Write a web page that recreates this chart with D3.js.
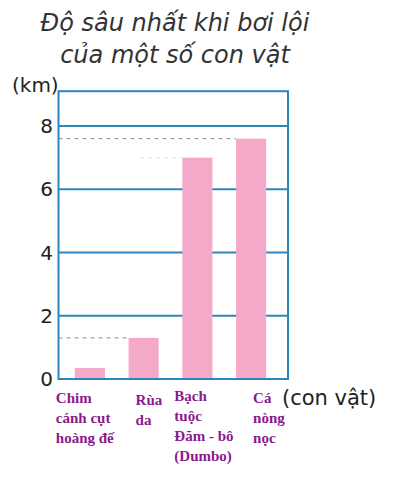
<!DOCTYPE html>
<html>
<head>
<meta charset="utf-8">
<script src="https://cdn.jsdelivr.net/npm/d3@7"></script>
<style>
  body { margin: 0; background: #fff; }
  svg { display: block; }
</style>
</head>
<body>
<svg id="chart" width="408" height="486"></svg>
<script>
// data
var titleLines = ['Độ sâu nhất khi bơi lội', 'của một số con vật'];
var animals = [
	['Chim', 'cánh cụt', 'hoàng đế'],
	['Rùa', 'da'],
	['Bạch', 'tuộc', 'Đăm - bô', '(Dumbo)'],
	['Cá', 'nòng', 'nọc']
];
var depths = [0.35, 1.3, 7, 7.6];
var yTicks = [0, 2, 4, 6, 8];
var yUnit = '(km)';
var xUnit = '(con vật)';

// layout
var frameLeft = 58.5, frameRight = 288;
var labelDx = [-19, 7, -8, 17];
var labelDy = [0, 2, -2, 0];
var sans = 'DejaVu Sans, sans-serif';

var svg = d3.select('#chart');

var x = d3.scaleBand()
	.domain(d3.range(animals.length))
	.range([63, 278])
	.paddingInner(0.44)
	.paddingOuter(0.22);

var y = d3.scaleLinear()
	.domain([0, 8])
	.range([379, 126]);

var blue = '#2b86c0';
var pink = '#f4a9c9';
var purple = '#8a1a8c';

// title
svg.append('g')
	.selectAll('text')
	.data(titleLines)
	.enter()
	.append('text')
	.attr('x', 175)
	.attr('y', function (d, i) { return 31 + i * 32; })
	.attr('text-anchor', 'middle')
	.attr('font-family', sans)
	.attr('font-style', 'italic')
	.attr('font-size', 24)
	.attr('fill', '#333')
	.text(function (d) { return d; });

// dashed guide lines
var guides = svg.append('g');
depths.forEach(function (d, i) {
	if (i === 0) return;
	var faint = i === 2;
	guides.append('line')
		.attr('x1', faint ? 140 : frameLeft)
		.attr('x2', x(i))
		.attr('y1', y(d))
		.attr('y2', y(d))
		.attr('stroke', faint ? '#d6e6ee' : '#8a8f96')
		.attr('stroke-width', 1)
		.attr('stroke-dasharray', '4,4');
});

// grid lines
svg.append('g')
	.selectAll('line')
	.data(yTicks)
	.enter()
	.append('line')
	.attr('x1', frameLeft)
	.attr('x2', frameRight)
	.attr('y1', function (d) { return y(d); })
	.attr('y2', function (d) { return y(d); })
	.attr('stroke', blue)
	.attr('stroke-width', 2);

// bars
svg.append('g')
	.selectAll('rect')
	.data(depths)
	.enter()
	.append('rect')
	.attr('x', function (d, i) { return x(i); })
	.attr('width', x.bandwidth())
	.attr('y', function (d) { return y(d); })
	.attr('height', function (d) { return y(0) - y(d) + 1; })
	.attr('fill', pink);

// frame
svg.append('rect')
	.attr('x', frameLeft)
	.attr('y', y(9.1))
	.attr('width', frameRight - frameLeft)
	.attr('height', y(0) - y(9.1))
	.attr('fill', 'none')
	.attr('stroke', blue)
	.attr('stroke-width', 2);

// y tick labels
svg.append('g')
	.selectAll('text')
	.data(yTicks)
	.enter()
	.append('text')
	.attr('x', 53)
	.attr('y', function (d) { return y(d) + 7; })
	.attr('text-anchor', 'end')
	.attr('font-family', sans)
	.attr('font-size', 20)
	.attr('fill', '#222')
	.text(function (d) { return d; });

svg.append('text')
	.attr('x', 12)
	.attr('y', 92)
	.attr('font-family', sans)
	.attr('font-size', 20)
	.attr('fill', '#222')
	.text(yUnit);

svg.append('text')
	.attr('x', 282)
	.attr('y', 405)
	.attr('font-family', sans)
	.attr('font-size', 21)
	.attr('fill', '#222')
	.text(xUnit);

// category labels
var labels = svg.append('g')
	.selectAll('text')
	.data(animals)
	.enter()
	.append('text')
	.attr('font-family', 'Liberation Serif, Times New Roman, serif')
	.attr('font-weight', 'bold')
	.attr('font-size', 15)
	.attr('fill', purple);

labels.each(function (lines, i) {
	var t = d3.select(this);
	lines.forEach(function (line, j) {
		t.append('tspan')
			.attr('x', x(i) + labelDx[i])
			.attr('y', 403 + labelDy[i] + j * 20)
			.text(line);
	});
});
</script>
</body>
</html>
